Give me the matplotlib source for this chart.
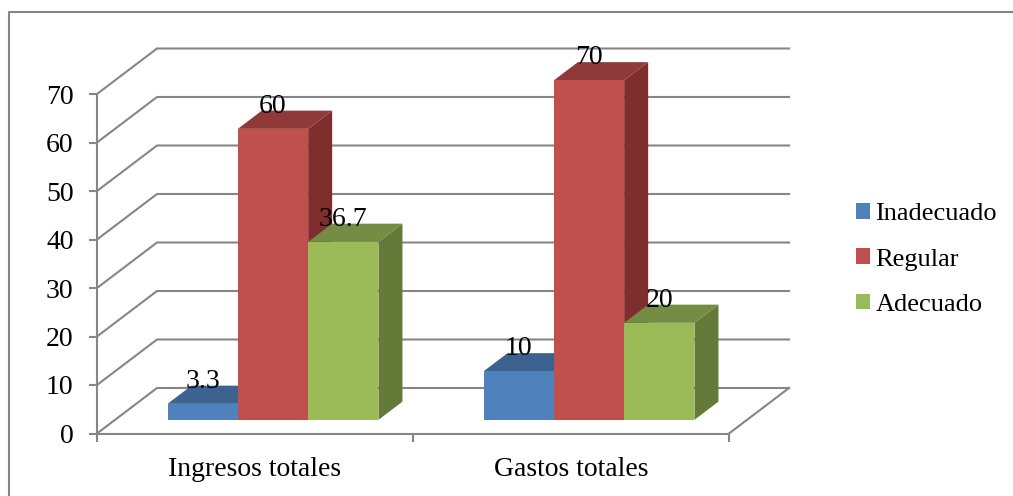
"""
Grouped pseudo-3D column chart: adequacy of total income and expenses (%).
Depth is a simple oblique projection applied on top of the axes' data coordinates.
"""

import matplotlib
matplotlib.use("Agg")
import matplotlib.pyplot as plt
from matplotlib.lines import Line2D
from matplotlib.patches import Patch, Polygon

categories = ["Ingresos totales", "Gastos totales"]
series = ["Inadecuado", "Regular", "Adecuado"]
inadecuado = [3.3, 10]
regular = [60, 70]
adecuado = [36.7, 20]
yticks = [0, 10, 20, 30, 40, 50, 60, 70]

FRONT = ["#4F81BD", "#C0504D", "#9BBB59"]
TOP = ["#3C6290", "#8F3A38", "#748C43"]
SIDE = ["#335680", "#7E2F2D", "#647A39"]
GREY = "#868686"
LW = 1.5

W, H = 1013, 496
AX_L, AX_R, AX_T, AX_B = 97, 729, 94, 433.5

# oblique offset of the back wall, in data units
DEPTH_X = 60 / ((AX_R - AX_L) / 2)
DEPTH_Y = 45.5 / ((AX_B - AX_T) / 70)
BAR_W = 0.2225
D0, D1 = 0.3, 0.7

plt.rcParams["font.family"] = ["Liberation Serif", "DejaVu Serif"]


def proj(x, y, d):
    return x + d * DEPTH_X, y + d * DEPTH_Y


def box(ax, x, value, k, z):
    x1 = x + BAR_W
    front = [proj(x, 0, D0), proj(x1, 0, D0), proj(x1, value, D0), proj(x, value, D0)]
    top = [proj(x, value, D0), proj(x1, value, D0), proj(x1, value, D1), proj(x, value, D1)]
    side = [proj(x1, 0, D0), proj(x1, 0, D1), proj(x1, value, D1), proj(x1, value, D0)]
    for pts, col in ((side, SIDE[k]), (top, TOP[k]), (front, FRONT[k])):
        ax.add_patch(Polygon(pts, closed=True, fc=col, ec="none", clip_on=False, zorder=z))


fig = plt.figure(figsize=(W / 100, H / 100), dpi=100, facecolor="white")
ax = fig.add_axes([AX_L / W, 1 - AX_B / H, (AX_R - AX_L) / W, (AX_B - AX_T) / H])
ax.set_xlim(0, 2)
ax.set_ylim(0, 70)
ax.patch.set_visible(False)

for s in ("top", "right"):
    ax.spines[s].set_visible(False)
for s in ("left", "bottom"):
    ax.spines[s].set_color(GREY)
    ax.spines[s].set_linewidth(LW)

ax.set_yticks(yticks)
ax.set_xticks([0, 1, 2])
ax.set_xticklabels([])
ax.set_xticks([0.5, 1.5], minor=True)
ax.set_xticklabels(categories, minor=True)
ax.tick_params(axis="y", length=6, width=LW, color=GREY, labelsize=20, pad=10.8)
ax.tick_params(axis="x", which="major", length=5.5, width=LW, color=GREY)
ax.tick_params(axis="x", which="minor", length=0, labelsize=20, pad=17)

# gridlines run up the side wall, then along the back wall
for v in yticks:
    xs, ys = zip(proj(0, v, 0), proj(0, v, 1), proj(2, v, 1))
    ax.plot(xs, ys, color=GREY, lw=LW, clip_on=False, zorder=1, solid_joinstyle="miter")
xs, ys = zip(proj(2, 0, 0), proj(2, 0, 1))
ax.plot(xs, ys, color=GREY, lw=LW, clip_on=False, zorder=1)

values = [inadecuado, regular, adecuado]
z = 3
for c in range(len(categories)):
    start = c + 0.5 - 1.5 * BAR_W
    for k in range(len(series)):
        box(ax, start + k * BAR_W, values[k][c], k, z)
        z += 1
for c in range(len(categories)):
    start = c + 0.5 - 1.5 * BAR_W
    for k in range(len(series)):
        v = values[k][c]
        # centred over the front face, just above the back edge of the top
        lx, _ = proj(start + (k + 0.5) * BAR_W, v, D0)
        _, ly = proj(start, v, D1)
        ax.annotate(str(v), (lx, ly), xytext=(0, 3.2), textcoords="offset points",
                    ha="center", va="center", fontsize=20, color="black",
                    annotation_clip=False, zorder=30)

handles = [Patch(fc=col, ec="none") for col in FRONT]
ax.legend(handles, series, loc="center left", bbox_to_anchor=(856 / W, 1 - 259.5 / H),
          bbox_transform=fig.transFigure, frameon=False, fontsize=19,
          handlelength=0.53, handleheight=0.53, handletextpad=0.2, labelspacing=0.88,
          borderpad=0, borderaxespad=0)

# outer chart frame, only top and left edges are inside the canvas
fig.add_artist(Line2D([9 / W, 9 / W, 1], [0, 1 - 12 / H, 1 - 12 / H], color=GREY, lw=LW))

fig.savefig("out.png", dpi=100)
